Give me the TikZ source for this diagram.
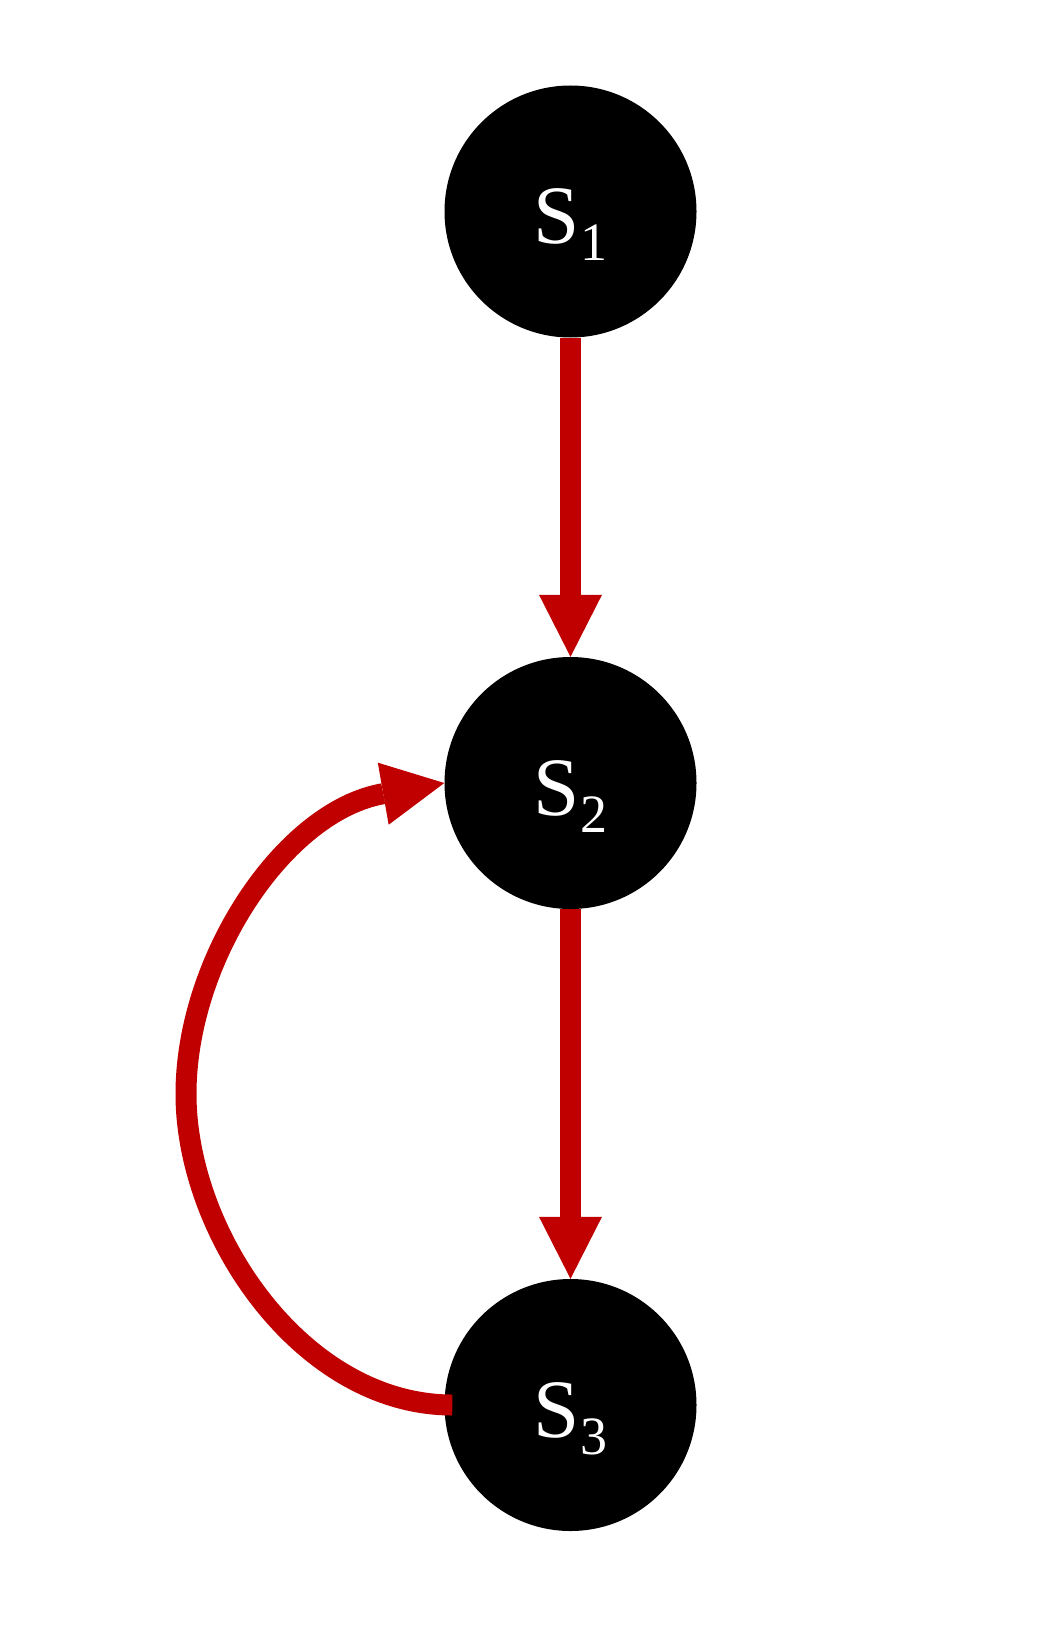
\documentclass[tikz,border=0pt]{standalone}
\usepackage{fontspec}
\setmainfont{Liberation Serif}
\usetikzlibrary{arrows.meta}
\definecolor{edgered}{RGB}{192,0,0}
\begin{document}
\begin{tikzpicture}[x=1pt,y=-1pt,
  state/.style={circle,fill=black,draw=none,minimum size=252pt,inner sep=0pt,
    text=white,text height=64pt,text depth=0pt,font=\fontsize{83}{83}\selectfont},
  edge/.style={draw=edgered,line width=21pt,
    -{Triangle[length=62pt,width=63pt,line width=0pt]}}]
\path[use as bounding box] (0,0) rectangle (1050,1635);
\node[state] (s1) at (570.5,211.5) {S\smash{\raisebox{-17pt}{\fontsize{54}{54}\selectfont 1}}};
\node[state] (s2) at (570.5,783) {S\smash{\raisebox{-17pt}{\fontsize{54}{54}\selectfont 2}}};
\node[state] (s3) at (570.5,1405) {S\smash{\raisebox{-17pt}{\fontsize{54}{54}\selectfont 3}}};
\coordinate (lm) at (186,1094);
\draw[edge] (s1.south) -- (s2.north);
\draw[edge] (s2.south) -- (s3.north);
\draw[edge] ([xshift=8pt]s3.west) .. controls +(-150,0) and +(0,140) .. (lm)
  .. controls +(0,-135) and +(-160,28) .. (s2.west);
\end{tikzpicture}
\end{document}
